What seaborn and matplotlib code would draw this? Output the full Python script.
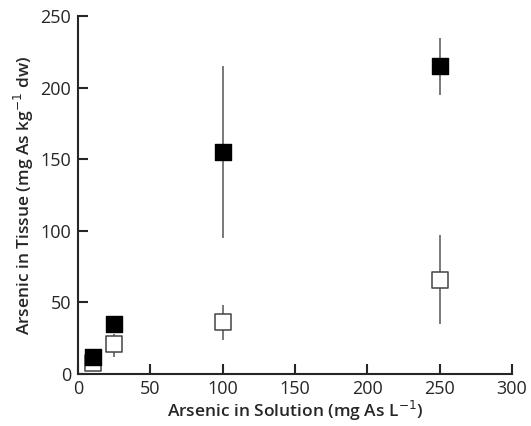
import matplotlib
matplotlib.use("Agg")
import matplotlib.pyplot as plt
import seaborn as sns
import pandas as pd

# concentrations in solution (mg As/L)
conc = [10, 25, 100, 250]
# filled squares
filled_mean = [12, 35, 155, 215]
filled_lo = [12, 35, 95, 195]
filled_hi = [12, 35, 215, 235]
# open squares
open_mean = [8, 21, 36, 66]
open_lo = [8, 12, 24, 35]
open_hi = [8, 28, 48, 97]

sns.set_style("ticks")
plt.rcParams['font.family'] = ['Open Sans', 'DejaVu Sans']

fig = plt.figure(figsize=(5.31, 4.26), dpi=100)
ax = fig.add_axes([0.147, 0.122, 0.817, 0.84])

for mean, lo, hi in [(filled_mean, filled_lo, filled_hi), (open_mean, open_lo, open_hi)]:
    err = [[m - l for m, l in zip(mean, lo)], [h - m for m, h in zip(mean, hi)]]
    ax.errorbar(conc, mean, yerr=err, fmt='none', ecolor='#555555', elinewidth=1.1, capsize=0, zorder=1)

df_open = pd.DataFrame({'x': conc, 'y': open_mean})
df_filled = pd.DataFrame({'x': conc, 'y': filled_mean})
sns.scatterplot(data=df_open, x='x', y='y', marker='s', s=120, color='white',
                edgecolor='#444444', linewidth=1.1, ax=ax, zorder=2)
sns.scatterplot(data=df_filled, x='x', y='y', marker='s', s=120, color='black',
                edgecolor='black', linewidth=1, ax=ax, zorder=3)

ax.set_xlim(0, 300)
ax.set_ylim(0, 250)
ax.set_xticks(range(0, 301, 50))
ax.set_yticks(range(0, 251, 50))
ax.tick_params(direction='in', length=7, width=1.5, labelsize=13)
ax.tick_params(axis='x', pad=4)
ax.tick_params(axis='y', pad=5)
for s in ['left', 'bottom']:
    ax.spines[s].set_linewidth(1.5)
sns.despine(ax=ax)
ax.set_xlabel('Arsenic in Solution (mg As L$^{-1}$)', fontsize=12.5, fontweight='semibold', labelpad=1)
ax.set_ylabel('Arsenic in Tissue (mg As kg$^{-1}$ dw)', fontsize=12.5, fontweight='semibold', labelpad=3)

fig.savefig('out.png', dpi=100)
